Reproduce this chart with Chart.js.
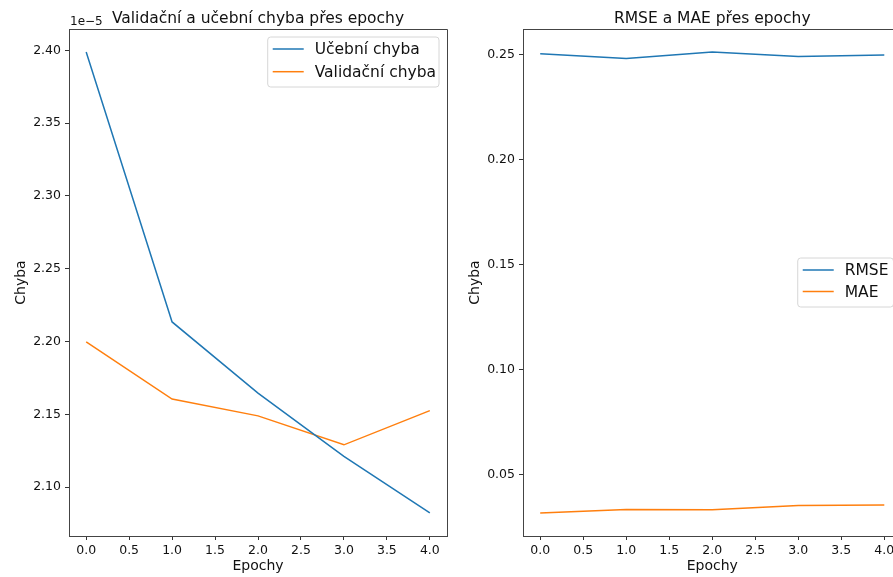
<!DOCTYPE html>
<html><head><meta charset="utf-8">
<script src="https://cdn.jsdelivr.net/npm/chart.js@4.4.1/dist/chart.umd.min.js"></script>
<style>
html,body{margin:0;padding:0;background:#fff;overflow:hidden;}
#wrap{position:relative;width:893px;height:577px;overflow:hidden;background:#fff;}
#c1wrap{position:absolute;left:0;top:0;width:460px;height:577px;}
#c2wrap{position:absolute;left:454px;top:0;width:460px;height:577px;}
</style></head><body>
<div id="wrap">
  <div id="c1wrap"><canvas id="c1" width="460" height="577"></canvas></div>
  <div id="c2wrap"><canvas id="c2" width="460" height="577"></canvas></div>
</div>
<script>
// ---- data ----
const epochs = [0, 1, 2, 3, 4];
const trainLoss = [2.3988e-5, 2.2134e-5, 2.1645e-5, 2.1210e-5, 2.0822e-5];
const valLoss   = [2.1997e-5, 2.1604e-5, 2.1489e-5, 2.1290e-5, 2.1525e-5];
const rmse = [0.2503, 0.2480, 0.2511, 0.2490, 0.2497];
const mae  = [0.0317, 0.0333, 0.0332, 0.0353, 0.0355];
const xTicks = [0, 0.5, 1, 1.5, 2, 2.5, 3, 3.5, 4];
const yTicksLoss = [2.10e-5, 2.15e-5, 2.20e-5, 2.25e-5, 2.30e-5, 2.35e-5, 2.40e-5];
const yTicksMetric = [0.05, 0.10, 0.15, 0.20, 0.25];
const lossScaleExp = 1e-5;

const BLUE = '#1f77b4', ORANGE = '#ff7f0e';
const FONT = "'DejaVu Sans', sans-serif";
const TXT = '#111';

function pts(ys) { return epochs.map((x, i) => ({x, y: ys[i]})); }
function margin(arrs) {
  const all = [].concat(...arrs);
  const lo = Math.min(...all), hi = Math.max(...all), r = hi - lo;
  return {min: lo - 0.05 * r, max: hi + 0.05 * r};
}
function xMargin() {
  const lo = Math.min(...epochs), hi = Math.max(...epochs), r = hi - lo;
  return {min: lo - 0.05 * r, max: hi + 0.05 * r};
}

const insideLegend = {
  id: 'insideLegend',
  afterDatasetsDraw(chart, args, o) {
    const {ctx, chartArea: ca} = chart;
    const ds = chart.data.datasets;
    ctx.save();
    ctx.font = o.fontSize + 'px ' + FONT;
    const tw = Math.max(...ds.map(d => ctx.measureText(d.label).width));
    const w = o.padL + o.lineLen + o.gap + tw + o.padR;
    const h = o.height;
    const x = ca.right - o.marginRight - w;
    const y = o.vcenter ? (ca.top + ca.bottom) / 2 - h / 2 : ca.top + o.marginTop;
    const r = 3;
    ctx.beginPath();
    ctx.moveTo(x + r, y); ctx.lineTo(x + w - r, y); ctx.quadraticCurveTo(x + w, y, x + w, y + r);
    ctx.lineTo(x + w, y + h - r); ctx.quadraticCurveTo(x + w, y + h, x + w - r, y + h);
    ctx.lineTo(x + r, y + h); ctx.quadraticCurveTo(x, y + h, x, y + h - r);
    ctx.lineTo(x, y + r); ctx.quadraticCurveTo(x, y, x + r, y);
    ctx.closePath();
    ctx.fillStyle = 'rgba(255,255,255,0.8)'; ctx.fill();
    ctx.strokeStyle = '#d6d6d6'; ctx.lineWidth = 1; ctx.stroke();
    ds.forEach((d, i) => {
      const cy = y + o.firstRow + i * o.rowH;
      ctx.beginPath();
      ctx.moveTo(x + o.padL, cy); ctx.lineTo(x + o.padL + o.lineLen, cy);
      ctx.strokeStyle = d.borderColor; ctx.lineWidth = 1.5; ctx.stroke();
      ctx.fillStyle = TXT; ctx.textBaseline = 'middle'; ctx.textAlign = 'left';
      ctx.fillText(d.label, x + o.padL + o.lineLen + o.gap, cy + 1);
    });
    ctx.restore();
  }
};

const offsetText = {
  id: 'offsetText',
  afterDraw(chart, args, o) {
    if (!o.text) return;
    const {ctx, chartArea: ca} = chart;
    ctx.save();
    ctx.font = '12px ' + FONT; ctx.fillStyle = TXT;
    ctx.textBaseline = 'alphabetic'; ctx.textAlign = 'left';
    ctx.fillText(o.text, ca.left + 1, 25);
    ctx.restore();
  }
};

function makeChart(id, title, sets, yTicks, yFmt, legendOpts, offText, padRight) {
  const ym = margin(sets.map(s => s.data));
  const xm = xMargin();
  return new Chart(document.getElementById(id), {
    type: 'line',
    data: {
      datasets: sets.map(s => ({
        label: s.label, data: pts(s.data), borderColor: s.color, backgroundColor: s.color,
        borderWidth: 1.5, pointRadius: 0, tension: 0, fill: false
      }))
    },
    options: {
      responsive: false, animation: false, devicePixelRatio: 1,
      layout: {padding: {top: 0, left: 0, right: padRight, bottom: 0}},
      plugins: {
        legend: {display: false}, tooltip: {enabled: false},
        title: {display: true, text: title, fullSize: false, color: TXT,
                font: {family: FONT, size: 15.5, weight: 'normal', lineHeight: 1.2},
                padding: {top: 10, bottom: 0.4}},
        insideLegend: legendOpts,
        offsetText: {text: offText}
      },
      scales: {
        x: {
          type: 'linear', min: xm.min, max: xm.max,
          afterBuildTicks: sc => { sc.ticks = xTicks.map(v => ({value: v})); },
          afterFit: sc => { sc.height = 41; },
          ticks: {color: TXT, font: {family: FONT, size: 12.5}, padding: 3, maxRotation: 0,
                  callback: v => v.toFixed(1)},
          grid: {display: true, drawOnChartArea: false, drawTicks: true, tickLength: 4, color: '#333', tickWidth: 1},
          border: {display: true, color: '#444', width: 1},
          title: {display: true, text: 'Epochy', color: TXT, font: {family: FONT, size: 14}, padding: {top: 0, bottom: 2.6}}
        },
        y: {
          type: 'linear', min: ym.min, max: ym.max,
          afterBuildTicks: sc => { sc.ticks = yTicks.map(v => ({value: v})); },
          afterFit: sc => { sc.width = 69; },
          ticks: {color: TXT, font: {family: FONT, size: 12.5}, padding: 4, callback: yFmt},
          grid: {display: true, drawOnChartArea: false, drawTicks: true, tickLength: 4, color: '#333', tickWidth: 1},
          border: {display: true, color: '#444', width: 1},
          title: {display: true, text: 'Chyba', color: TXT, font: {family: FONT, size: 14}, padding: {top: 12.6, bottom: 0}}
        }
      }
    },
    plugins: [insideLegend, offsetText, {
      id: 'frame',
      afterDatasetsDraw(chart) {
        const {ctx, chartArea: ca} = chart;
        ctx.save(); ctx.strokeStyle = '#444'; ctx.lineWidth = 1;
        ctx.beginPath();
        ctx.moveTo(Math.round(ca.left) + 0.5, Math.round(ca.top) + 0.5);
        ctx.lineTo(Math.round(ca.right) + 0.5, Math.round(ca.top) + 0.5);
        ctx.lineTo(Math.round(ca.right) + 0.5, Math.round(ca.bottom) + 0.5);
        ctx.stroke(); ctx.restore();
      }
    }]
  });
}

makeChart('c1', 'Validační a učební chyba přes epochy',
  [{label: 'Učební chyba', data: trainLoss, color: BLUE},
   {label: 'Validační chyba', data: valLoss, color: ORANGE}],
  yTicksLoss, v => (v / lossScaleExp).toFixed(2),
  {fontSize: 15.5, padL: 5, lineLen: 31, gap: 11, padR: 3, height: 50, firstRow: 12, rowH: 22.7,
   marginRight: 8, marginTop: 8, vcenter: false},
  '1e\u22125', 13);

makeChart('c2', 'RMSE a MAE přes epochy',
  [{label: 'RMSE', data: rmse, color: BLUE},
   {label: 'MAE', data: mae, color: ORANGE}],
  yTicksMetric, v => v.toFixed(2),
  {fontSize: 15.5, padL: 5, lineLen: 31, gap: 11, padR: 5, height: 49, firstRow: 12, rowH: 21.5,
   marginRight: 8, marginTop: 0, vcenter: true},
  '', 12.5);
</script>
</body></html>
